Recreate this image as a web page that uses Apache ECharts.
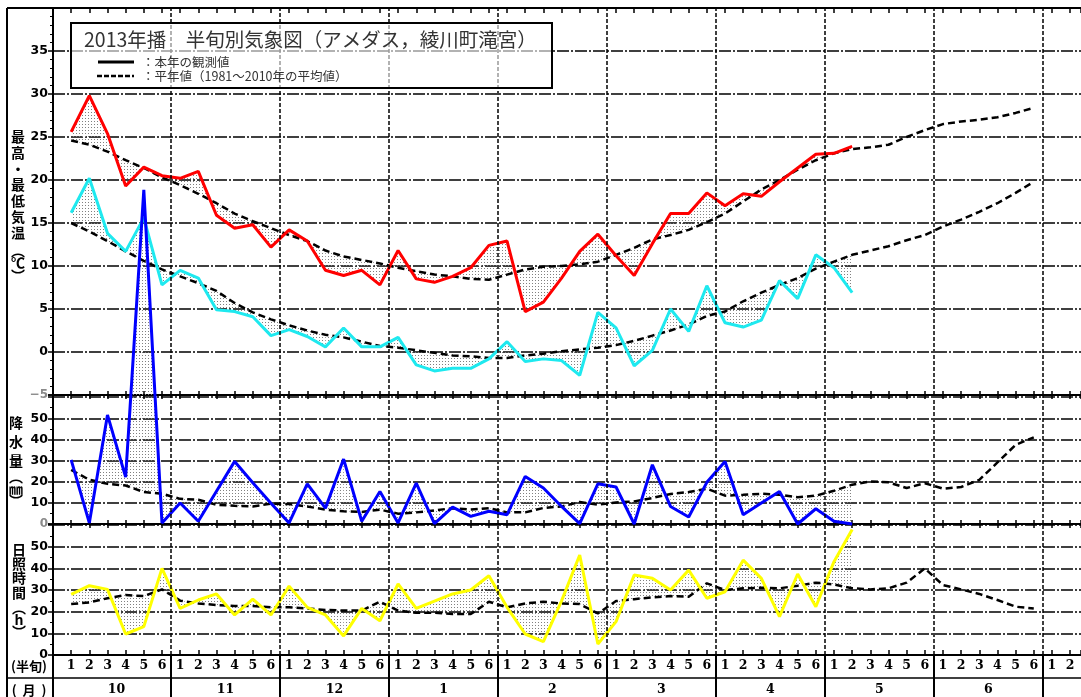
<!DOCTYPE html>
<html><head><meta charset="utf-8">
<script src="https://cdn.jsdelivr.net/npm/echarts/dist/echarts.min.js"></script>
<style>html,body{margin:0;padding:0;background:#fff;}#c{width:1081px;height:697px;}</style>
</head><body><div id="c"></div>
<script>
// ---- data ----
const pentadLabels = ['1','2','3','4','5','6'];
const monthLabels = ['10','11','12','1','2','3','4','5','6'];
const tempTicks = [-5,0,5,10,15,20,25,30,35];
const precipTicks = [0,10,20,30,40,50];
const sunTicks = [0,10,20,30,40,50];

const maxObs = [25.6,29.8,25.4,19.3,21.5,20.5,20.2,21.0,15.9,14.4,14.8,12.2,14.2,12.9,9.5,8.9,9.5,7.8,11.8,8.5,8.1,8.8,9.8,12.4,12.9,4.7,5.8,8.6,11.7,13.7,11.2,8.9,12.6,16.1,16.1,18.5,17.0,18.4,18.1,19.8,21.4,23.0,23.1,23.9];
const maxNorm = [24.6,24.1,23.3,22.3,21.4,20.3,19.4,18.4,17.3,16.1,15.2,14.4,13.6,12.9,11.8,11.1,10.7,10.3,9.8,9.4,9.0,8.8,8.5,8.4,9.0,9.6,9.9,10.0,10.2,10.5,11.3,12.1,13.1,13.6,14.2,15.1,16.1,17.5,18.9,20.0,21.2,22.3,23.1,23.6,23.8,24.1,25.0,25.8,26.5,26.8,27.0,27.3,27.8,28.4];
const minObs = [16.2,20.2,13.8,11.7,15.6,7.8,9.5,8.6,4.9,4.7,4.1,1.9,2.6,1.8,0.6,2.8,0.6,0.6,1.7,-1.5,-2.2,-1.9,-1.9,-0.8,1.2,-1.1,-0.8,-1.0,-2.7,4.6,2.8,-1.6,0.2,5.0,2.4,7.7,3.4,2.9,3.7,8.3,6.2,11.3,9.8,6.9];
const minNorm = [15.0,14.0,12.9,11.7,10.6,9.6,8.8,8.0,7.1,5.7,4.6,3.8,3.1,2.5,2.0,1.7,1.2,0.7,0.5,0.2,-0.1,-0.4,-0.5,-0.7,-0.7,-0.4,-0.2,0.1,0.3,0.5,0.8,1.3,1.9,2.5,3.2,4.2,4.7,5.9,6.9,7.8,8.6,9.7,10.5,11.3,11.8,12.3,13.0,13.6,14.6,15.4,16.3,17.3,18.5,19.8];
const precipObs = [30.3,0.5,51.6,22.2,158,0.5,9.9,1.3,15.5,29.6,19.5,9.8,0.5,19.0,7.5,30.7,1.3,15.4,0.5,19.3,0.2,8.0,3.6,6.0,4.4,22.5,17.0,8.3,0.2,19.0,17.5,0,28.0,8.3,3.3,19.7,29.6,4.4,9.9,15.4,0,7.2,1.3,0];
const precipNorm = [25.6,20.9,19.0,18.2,15.1,14.3,11.9,11.5,9.1,8.6,8.3,9.6,9.4,8.3,6.8,6.0,5.7,6.8,4.9,5.5,6.4,7.5,6.8,7.5,5.5,5.5,7.6,8.3,10.4,9.1,10.2,10.7,12.3,14.2,15.1,16.7,13.4,13.8,14.3,13.8,12.7,13.4,15.7,18.6,20.1,19.7,17.0,19.3,16.7,17.5,20.9,29.1,37.4,41.0];
const sunObs = [28.0,32.0,30.3,9.7,13.1,40.0,21.5,25.4,28.2,18.5,25.8,18.5,31.8,22.0,18.5,8.8,21.5,15.8,32.8,21.5,24.9,28.2,30.0,36.6,22.0,9.7,6.2,25.0,46.2,5.1,15.4,36.9,35.4,30.0,39.2,26.2,29.2,43.8,35.4,17.7,37.4,22.3,43.1,58.0];
const sunNorm = [23.5,24.3,26.2,27.7,27.2,30.3,25.1,23.8,23.1,22.6,22.6,22.0,22.0,21.5,20.8,20.5,20.5,24.6,20.5,19.5,19.5,18.9,18.9,24.6,22.0,23.8,24.6,23.8,23.5,19.2,24.9,25.8,26.6,27.2,26.9,33.1,30.0,30.8,31.1,30.8,32.0,33.4,32.6,30.8,30.3,30.8,33.4,40.0,32.3,30.3,28.2,25.4,22.3,21.5];

// ---- helpers ----
const xMin = -1, xMax = 55.6;
const pts = arr => arr.map((v, i) => [i, v]);
const segs = (obs, nrm) => obs.slice(0, -1).map((v, i) => [i, v, nrm[i], obs[i + 1], nrm[i + 1]]);
const monthBounds = monthLabels.map((m, k) => 5.5 + 6 * k);

const pc = document.createElement('canvas'); pc.width = 3; pc.height = 3;
const pctx = pc.getContext('2d'); pctx.fillStyle = '#808080'; pctx.fillRect(1, 1, 1, 1);
const dotFill = { image: pc, repeat: 'repeat' };

function fillItem(params, api) {
  const i = api.value(0);
  const a0 = api.value(1), b0 = api.value(2), a1 = api.value(3), b1 = api.value(4);
  const A0 = api.coord([i, a0]), B0 = api.coord([i, b0]), A1 = api.coord([i + 1, a1]), B1 = api.coord([i + 1, b1]);
  const d0 = a0 - b0, d1 = a1 - b1;
  const style = { fill: dotFill, stroke: null };
  if (d0 * d1 >= 0) return { type: 'polygon', shape: { points: [A0, A1, B1, B0] }, style };
  const t = d0 / (d0 - d1);
  const X = [A0[0] + (A1[0] - A0[0]) * t, A0[1] + (A1[1] - A0[1]) * t];
  return { type: 'group', children: [
    { type: 'polygon', shape: { points: [A0, X, B0] }, style },
    { type: 'polygon', shape: { points: [X, A1, B1] }, style }] };
}

const BLACK = '#000';
const gridLine = { show: true, lineStyle: { color: '#000', width: 1.5, type: [12, 2, 2, 2] } };
const numFont = { fontFamily: 'DejaVu Sans', fontWeight: 'bold', fontSize: 12.5, color: '#000' };

function edgeAxis(grid, pos, len) {
  return { type: 'value', gridIndex: grid, position: pos, min: xMin, max: xMax, interval: 1,
    axisLine: { show: true, onZero: false, lineStyle: { color: BLACK, width: 2 } },
    axisTick: { show: true, inside: true, length: len, lineStyle: { color: BLACK, width: 1.5 } },
    axisLabel: { show: false }, splitLine: { show: false } };
}
function yAxisDef(grid, min, max, step, minorN, ticks, grayVals) {
  return { type: 'value', gridIndex: grid, min, max, interval: step,
    axisLine: { show: true, onZero: false, lineStyle: { color: BLACK, width: 2 } },
    axisTick: { show: true, length: 5, lineStyle: { color: BLACK, width: 1.5 } },
    minorTick: { show: true, splitNumber: minorN, length: 3, lineStyle: { color: BLACK, width: 1 } },
    splitLine: gridLine,
    axisLabel: Object.assign({ margin: 5, showMinLabel: true,
      formatter: v => ticks.indexOf(v) < 0 ? '' : (grayVals.indexOf(v) >= 0 ? '{g|' + (v < 0 ? '−' + (-v) : v) + '}' : String(v)),
      rich: { g: { color: '#8a8a8a', fontFamily: 'DejaVu Sans', fontSize: 12 } } }, numFont) };
}
function dashLine(x, y, data, bounds) {
  const s = { type: 'line', xAxisIndex: x, yAxisIndex: y, data: pts(data), showSymbol: false, symbol: 'none',
    lineStyle: { color: '#000', width: 2.5, type: [7, 4] }, z: 3 };
  if (bounds) s.markLine = { silent: true, symbol: ['none', 'none'], label: { show: false },
    lineStyle: { color: '#000', width: 1.5, type: [4, 2] }, data: monthBounds.map(b => ({ xAxis: b })) };
  return s;
}
function obsLine(x, y, data, color, clip) {
  return { type: 'line', xAxisIndex: x, yAxisIndex: y, data: pts(data), showSymbol: false, symbol: 'none',
    clip: clip, lineStyle: { color, width: 3 }, z: 4 };
}
function fillSeries(x, y, obs, nrm) {
  return { type: 'custom', xAxisIndex: x, yAxisIndex: y, data: segs(obs, nrm), renderItem: fillItem,
    clip: false, z: 2, silent: true };
}

const chart = echarts.init(document.getElementById('c'));
const gridBase = { left: 53, right: 0, containLabel: false, outerBoundsMode: 'none' };

const sideText = (chars, ys, x) => chars.map((c, k) => ({ type: 'text', x: x, y: ys[k], z: 50,
  style: { text: c, fill: '#000', font: 'bold 14px "Noto Sans CJK JP"', align: 'center', verticalAlign: 'middle' } }));

chart.setOption({
  animation: false,
  backgroundColor: '#fff',
  grid: [
    Object.assign({ top: 8, height: 387 }, gridBase),
    Object.assign({ top: 395, height: 129 }, gridBase),
    Object.assign({ top: 524, height: 131 }, gridBase),
    Object.assign({ top: 655, height: 42 }, gridBase)
  ],
  xAxis: [
    edgeAxis(0, 'bottom', 4), edgeAxis(0, 'top', 5),
    edgeAxis(1, 'bottom', 4), edgeAxis(1, 'top', 4),
    edgeAxis(2, 'bottom', 5), edgeAxis(2, 'top', 4),
    { type: 'value', gridIndex: 3, position: 'top', min: xMin, max: xMax, interval: 1,
      axisLine: { show: false }, axisTick: { show: false }, splitLine: { show: false },
      axisLabel: { show: true, inside: true, margin: 4, fontFamily: 'DejaVu Serif', fontWeight: 'bold', fontSize: 12.5, color: '#000',
        formatter: v => { const r = Math.round(v); return (Math.abs(v - r) > 1e-6 || r < 0 || r > 55) ? '' : pentadLabels[r % 6]; } } },
    { type: 'value', gridIndex: 3, position: 'bottom', min: xMin, max: xMax, interval: 0.5,
      axisLine: { show: false }, axisTick: { show: false }, splitLine: { show: false },
      axisLabel: { show: true, inside: true, margin: 1, fontFamily: 'DejaVu Serif', fontWeight: 'bold', fontSize: 12.5, color: '#000',
        formatter: v => { const k = (v - 2.5) / 6, r = Math.round(k); return (Math.abs(k - r) > 1e-6 || r < 0 || r >= monthLabels.length) ? '' : monthLabels[r]; } } }
  ],
  yAxis: [
    yAxisDef(0, -5, 40, 5, 5, tempTicks, [-5]),
    yAxisDef(1, 0, 61, 10, 2, precipTicks, [0]),
    yAxisDef(2, 0, 60.5, 10, 2, sunTicks, []),
    { type: 'value', gridIndex: 3, min: 0, max: 1, axisLine: { show: true, onZero: false, lineStyle: { color: BLACK, width: 2 } },
      axisTick: { show: false }, axisLabel: { show: false }, splitLine: { show: false } }
  ],
  series: [
    fillSeries(0, 0, maxObs, maxNorm),
    fillSeries(0, 0, minObs, minNorm),
    dashLine(0, 0, maxNorm, true),
    dashLine(0, 0, minNorm, false),
    obsLine(0, 0, maxObs, '#ff0000', true),
    obsLine(0, 0, minObs, '#1ee9ef', true),
    fillSeries(2, 1, precipObs, precipNorm),
    dashLine(2, 1, precipNorm, true),
    obsLine(2, 1, precipObs, '#0000ff', false),
    fillSeries(4, 2, sunObs, sunNorm),
    dashLine(4, 2, sunNorm, true),
    obsLine(4, 2, sunObs, '#ffff00', true),
    { type: 'line', xAxisIndex: 6, yAxisIndex: 3, data: [], silent: true,
      markLine: { silent: true, symbol: ['none', 'none'], label: { show: false },
        lineStyle: { color: '#000', width: 2, type: 'solid' }, data: monthBounds.map(b => ({ xAxis: b })) } }
  ],
  graphic: [
    { type: 'line', z: 60, shape: { x1: 7, y1: 8, x2: 7, y2: 697 }, style: { stroke: '#000', lineWidth: 2 } },
    { type: 'line', z: 60, shape: { x1: 7, y1: 8, x2: 53, y2: 8 }, style: { stroke: '#000', lineWidth: 2 } },
    { type: 'line', z: 60, shape: { x1: 7, y1: 678, x2: 1081, y2: 678 }, style: { stroke: '#000', lineWidth: 1.5 } },
    { type: 'rect', z: 60, shape: { x: 71, y: 23, width: 481, height: 65 },
      style: { fill: 'rgba(255,255,255,0.6)', stroke: '#000', lineWidth: 2 } },
    { type: 'text', z: 61, x: 84, y: 40, style: { text: '2013年播　半旬別気象図（アメダス，綾川町滝宮）', fill: '#333',
      font: '19.5px "Noto Sans CJK JP"', verticalAlign: 'middle' } },
    { type: 'line', z: 61, shape: { x1: 98, y1: 62, x2: 134, y2: 62 }, style: { stroke: '#000', lineWidth: 3 } },
    { type: 'line', z: 61, shape: { x1: 97, y1: 76, x2: 134, y2: 76 }, style: { stroke: '#000', lineWidth: 2.5, lineDash: [5, 2] } },
    { type: 'text', z: 61, x: 142, y: 62, style: { text: '：本年の観測値', fill: '#333', font: '12.5px "Noto Sans CJK JP"', verticalAlign: 'middle' } },
    { type: 'text', z: 61, x: 142, y: 76, style: { text: '：平年値（1981～2010年の平均値）', fill: '#333', font: '12.5px "Noto Sans CJK JP"', verticalAlign: 'middle' } },
    { type: 'text', z: 61, x: 29, y: 666, style: { text: '(半旬)', fill: '#000', font: 'bold 13px "Noto Sans CJK JP"', align: 'center', verticalAlign: 'middle' } },
    { type: 'text', z: 61, x: 29, y: 690, style: { text: '(  月  )', fill: '#000', font: 'bold 13px "Noto Sans CJK JP"', align: 'center', verticalAlign: 'middle' } }
  ].concat(
    sideText(['最','高','・','最','低','気','温','︵','℃','︶'], [137,153,169,185,201,217,233,251,263,276], 18),
    sideText(['降','水','量','︵','㎜','︶'], [423,442,461,477,489,501], 16),
    sideText(['日','照','時','間','︵','h','︶'], [550,564,578,593,608,620,632], 19)
  )
});
</script></body></html>
